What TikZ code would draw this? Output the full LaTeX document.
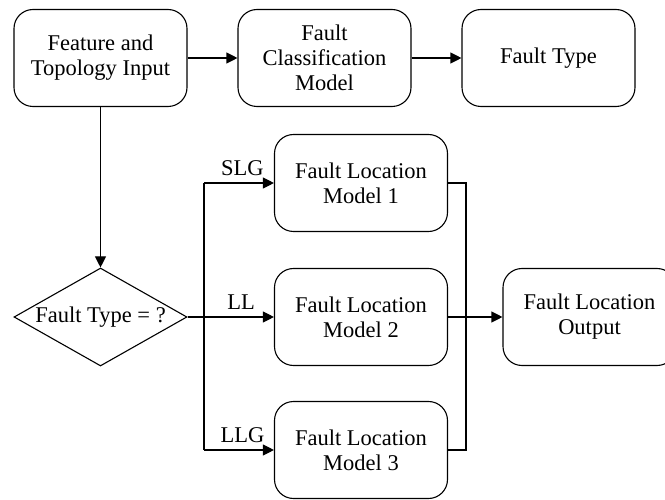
\documentclass[tikz,border=0pt]{standalone}
\usepackage{fontspec}
\setmainfont{Liberation Serif}
\usetikzlibrary{arrows.meta,shapes.geometric}
\begin{document}
\begin{tikzpicture}[x=1pt,y=-1pt,
  line width=1.1pt,
  every node/.style={font=\fontsize{22.5}{25}\selectfont},
  block/.style={draw,rounded corners=19pt,minimum width=173pt,minimum height=97pt,
    align=center,inner sep=2pt},
  decision/.style={draw,shape=diamond,aspect=1.77,minimum width=173pt,
    minimum height=98pt,inner sep=0pt},
  flow/.style={-{Triangle[length=11pt,width=11pt]}},
  tag/.style={above=6pt,inner sep=1pt}]
\useasboundingbox (0,0) rectangle (665,500);

% top row
\node[block] (feat) at (100.5,58) {Feature and\\Topology Input};
\node[block] (cls)  at (324.5,58) {Fault\\Classification\\Model};
\node[block] (ftype) at (548.5,58) {Fault Type};

% decision and location models
\node[decision] (dec) at (100.5,317) {Fault Type = ?};
\node[block] (m1) at (361,183) {Fault Location\\Model 1};
\node[block] (m2) at (361,317) {Fault Location\\Model 2};
\node[block] (m3) at (361,450) {Fault Location\\Model 3};
\node[block] (out) at (589.5,317) {Fault Location\\Output};

% bus coordinates
\coordinate (lt) at (204,183);
\coordinate (lb) at (204,450);
\coordinate (rt) at (466,183);
\coordinate (rb) at (466,450);

\draw[flow] (feat) -- (cls);
\draw[flow] (cls) -- (ftype);
\draw[flow] (feat.south) -- (dec.north);

\draw (lt) -- (lb);
\draw[flow] (lt) -- node[tag,pos=0.55] {SLG} (m1.west);
\draw[flow] (dec.east) -- node[tag,pos=0.62] {LL} (m2.west);
\draw[flow] (lb) -- node[tag,pos=0.55] {LLG} (m3.west);

\draw (m1.east) -- (rt) -- (rb) -- (m3.east);
\draw[flow] (m2.east) -- (out.west);
\end{tikzpicture}
\end{document}
